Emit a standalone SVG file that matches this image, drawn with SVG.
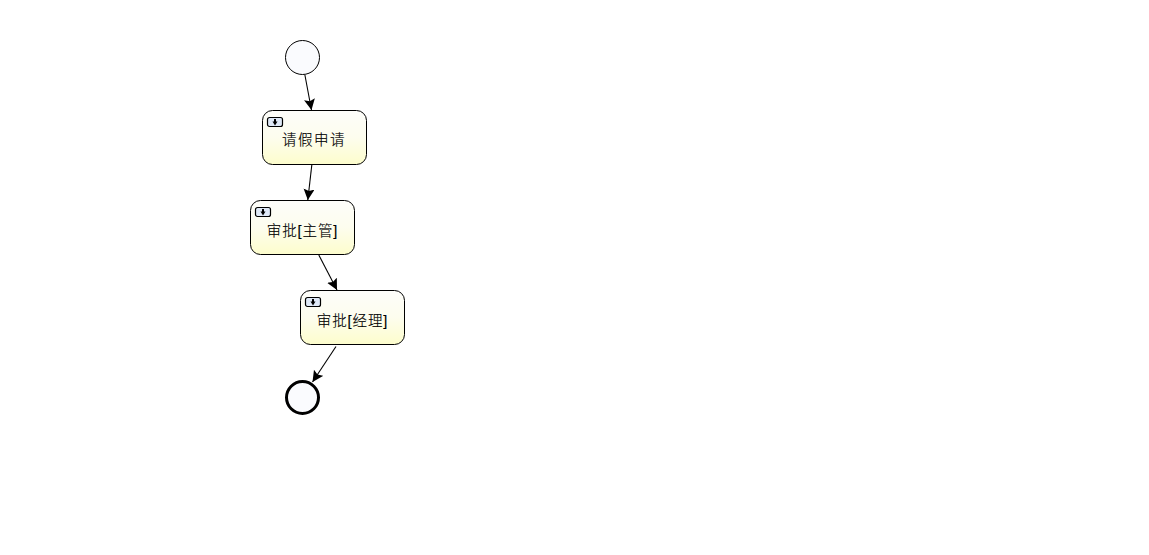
<svg xmlns="http://www.w3.org/2000/svg" width="1149" height="555" viewBox="0 0 1149 555">
<style>
.task{fill:url(#taskFill);stroke:#000;stroke-width:1}
.ev{fill:#fafbfe;stroke:#000}
.conn{fill:none;stroke:#000;stroke-width:1.100;marker-end:url(#arrow)}
.lbl{font-family:"Liberation Sans","Noto Sans CJK SC",sans-serif;font-size:14.500px;font-weight:300;fill:#000;stroke:#000;stroke-width:0.150;text-anchor:middle}
.ico{fill:#dfe9f7;stroke:#000;stroke-width:1.200}
.glyph{fill:#000;stroke:none}
</style>
<defs>
<linearGradient id="taskFill" x1="0" y1="0" x2="0" y2="1"><stop offset="0" stop-color="#fdfdfa"/><stop offset="0.500" stop-color="#fdfdee"/><stop offset="1" stop-color="#fdfdcc"/></linearGradient>
<marker id="arrow" markerUnits="userSpaceOnUse" markerWidth="14" markerHeight="12" refX="11" refY="5.500" orient="auto"><path d="M0 0L11 5.500L0 11L2 5.500Z" fill="#000"/></marker>
<g id="icon"><rect class="ico" x="0.500" y="0.500" width="15" height="9" rx="2"/><path class="glyph" d="M7 2h2v2.500h1.500L8 8.500 5.500 4.500H7Z"/></g>
</defs>
<rect width="1149" height="555" fill="#fff"/>
<g id="connectors">
<path class="conn" d="M304.800 74.500L311.500 110"/>
<path class="conn" d="M311.800 165L307.800 200"/>
<path class="conn" d="M318.800 255L337 290"/>
<path class="conn" d="M336 346.500L312.500 382"/>
</g>
<g id="start"><circle class="ev" cx="302.500" cy="57.500" r="17" stroke-width="1"/></g>
<g id="task1"><rect class="task" x="262.500" y="110.500" width="104" height="54" rx="10"/><use href="#icon" x="267" y="117"/><text class="lbl" x="314" y="145" letter-spacing="1.500">请假申请</text></g>
<g id="task2"><rect class="task" x="250.500" y="200.500" width="104" height="54" rx="10"/><use href="#icon" x="255" y="207"/><text class="lbl" x="302.500" y="236" letter-spacing="0.900">审批[主管]</text></g>
<g id="task3"><rect class="task" x="300.500" y="290.500" width="104" height="54" rx="10"/><use href="#icon" x="305" y="297"/><text class="lbl" x="352.500" y="326" letter-spacing="0.900">审批[经理]</text></g>
<g id="end"><circle class="ev" cx="302.500" cy="397.500" r="16" stroke-width="3"/></g>
</svg>
